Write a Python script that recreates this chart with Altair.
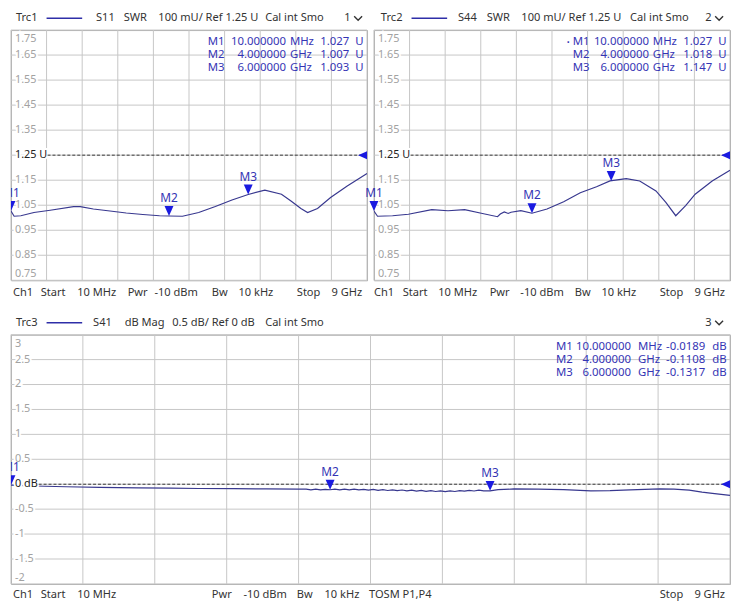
import altair as alt
import pandas as pd

# ---------------- data ----------------
# Trc1: S11 SWR (frequency in GHz, SWR in U)
s11_f = [0.01, 0.09, 0.26, 0.59, 1.0, 1.59, 1.76, 2.09, 2.51, 2.92, 3.34, 3.76, 4.0, 4.34,
         4.75, 5.17, 5.59, 6.0, 6.42, 6.84, 7.08, 7.33, 7.5, 7.75, 8.08, 8.5, 9.0]
s11_v = [1.027, 1.006, 1.008, 1.021, 1.030, 1.044, 1.044, 1.035, 1.027, 1.019, 1.013, 1.008, 1.007, 1.006,
         1.021, 1.045, 1.071, 1.093, 1.110, 1.094, 1.067, 1.037, 1.021, 1.037, 1.081, 1.127, 1.177]

# Trc2: S44 SWR
s44_f = [0.01, 0.1, 0.48, 0.88, 1.47, 1.88, 2.3, 2.72, 3.13, 3.2, 3.3, 3.4, 3.47, 3.72, 4.0, 4.38,
         4.8, 5.22, 5.63, 5.97, 6.38, 6.72, 7.13, 7.38, 7.63, 7.88, 8.12, 8.55, 9.0]
s44_v = [1.027, 1.006, 1.008, 1.014, 1.032, 1.028, 1.032, 1.018, 1.004, 1.015, 1.023, 1.017, 1.022, 1.028, 1.018, 1.035,
         1.064, 1.100, 1.124, 1.147, 1.156, 1.147, 1.107, 1.061, 1.008, 1.048, 1.094, 1.147, 1.190]

# Trc3: S41 dB Mag
s41_f = [0.01, 0.3, 0.7, 1.12, 1.6, 2.0, 2.36, 2.8, 3.2, 3.6,
         3.7, 3.76, 3.82, 3.88, 3.94, 4.0, 4.06, 4.12, 4.18, 4.24, 4.3, 4.36, 4.42, 4.48, 4.54, 4.6,
         4.66, 4.72, 4.78, 4.84, 4.9, 4.96, 5.02, 5.08, 5.14, 5.2, 5.26, 5.32, 5.38, 5.44, 5.5, 5.56,
         5.62, 5.68, 5.74, 5.8, 5.86, 5.92, 6.0,
         6.1, 6.3, 6.6, 6.92, 7.26, 7.5, 7.75, 8.12, 8.3, 8.49, 8.65, 8.78, 9.0]
s41_v = [-0.019, -0.035, -0.05, -0.062, -0.072, -0.08, -0.086, -0.09, -0.095, -0.1,
         -0.098, -0.112, -0.1, -0.114, -0.104, -0.111, -0.098, -0.112, -0.1, -0.113, -0.099, -0.114, -0.102, -0.118, -0.105, -0.122,
         -0.108, -0.126, -0.112, -0.13, -0.116, -0.134, -0.12, -0.138, -0.124, -0.142, -0.128, -0.146, -0.132, -0.148, -0.132, -0.146,
         -0.128, -0.14, -0.122, -0.136, -0.118, -0.132, -0.1317,
         -0.11, -0.095, -0.1, -0.11, -0.135, -0.13, -0.115, -0.095, -0.1, -0.12, -0.16, -0.185, -0.225]

# markers
mk_names = ["M1", "M2", "M3"]
mk_f = [0.01, 4.0, 6.0]
mk_freq_txt = ["10.000000", "4.000000", "6.000000"]
mk_unit_txt = ["MHz", "GHz", "GHz"]
s11_mk_v = [1.027, 1.007, 1.093]
s44_mk_v = [1.027, 1.018, 1.147]
s41_mk_v = [-0.0189, -0.1108, -0.1317]
s11_mk_txt = ["1.027", "1.007", "1.093"]
s44_mk_txt = ["1.027", "1.018", "1.147"]
s41_mk_txt = ["-0.0189", "-0.1108", "-0.1317"]

# grids / axis labels
x_grid = [0.01, 0.909, 1.808, 2.707, 3.606, 4.505, 5.404, 6.303, 7.202, 8.101, 9.0]
swr_grid = [1.75, 1.65, 1.55, 1.45, 1.35, 1.25, 1.15, 1.05, 0.95, 0.85, 0.75]
swr_labels = ["1.75", "1.65", "1.55", "1.45", "1.35", "1.25 U", "1.15", "1.05", "0.95", "0.85", "0.75"]
db_grid = [3, 2.5, 2, 1.5, 1, 0.5, 0, -0.5, -1, -1.5, -2]
db_labels = ["3", "2.5", "2", "1.5", "1", "0.5", "0 dB", "-0.5", "-1", "-1.5", "-2"]

hdr1 = ["Trc1", "S11", "SWR", "100 mU/ Ref 1.25 U", "Cal int Smo", "1"]
hdr2 = ["Trc2", "S44", "SWR", "100 mU/ Ref 1.25 U", "Cal int Smo", "2"]
hdr3 = ["Trc3", "S41", "dB Mag", "0.5 dB/ Ref 0 dB", "Cal int Smo", "3"]
ftr_top = ["Ch1", "Start", "10 MHz", "Pwr", "-10 dBm", "Bw", "10 kHz", "Stop", "9 GHz"]
ftr_bot = ["Ch1", "Start", "10 MHz", "Pwr", "-10 dBm", "Bw", "10 kHz", "TOSM P1,P4", "Stop", "9 GHz"]

# ---------------- style ----------------
FONT = "Noto Sans"
TRACE = "#38388f"
MARK = "#1a1ae0"
MTXT = "#3434b4"
LBL = "#a2a2a2"
DARK = "#333333"
GRID = "#c6c6c6"
TRI_DOWN = "M-0.45,-1L0.45,-1L0,0Z"
TRI_LEFT = "M-1,0L0,-0.45L0,0.45Z"
CHEVRON = "M-1,-0.5L0,0.5L1,-0.5"
HFS = 11.2   # header/footer font size
RFS = 11.5   # readout font size

one = pd.DataFrame({"k": [0]})


def txt(s, x, y, align="left", color=DARK, size=HFS, baseline="middle"):
    return alt.Chart(one).mark_text(text=s, align=align, baseline=baseline, font=FONT,
                                    fontSize=size, color=color).encode(
        x=alt.value(x), y=alt.value(y))


def panel(tr_f, tr_v, ydom, ygrid, ylabels, ref_v, ref_idx, ref_x0, W, H,
          mk_v, mk_txt, val_unit, ro_x, header, hdr_x, chev_x, footer, ftr_x, ftr_y,
          clip_mk, bullet_x=None):
    xs = alt.Scale(domain=[0.01, 9.0], nice=False, zero=False)
    ys = alt.Scale(domain=ydom, nice=False, zero=False)
    Xn = alt.X("f:Q", scale=xs, axis=None)
    Yn = alt.Y("v:Q", scale=ys, axis=None)

    layers = []
    # grid lines
    layers.append(alt.Chart(pd.DataFrame({"f": x_grid})).mark_rule(color=GRID, strokeWidth=1).encode(
        x=Xn, y=alt.value(0), y2=alt.value(H)))
    layers.append(alt.Chart(pd.DataFrame({"v": ygrid})).mark_rule(color=GRID, strokeWidth=1).encode(
        y=Yn, x=alt.value(0), x2=alt.value(W)))

    trace = pd.DataFrame({"f": tr_f, "v": tr_v})
    layers.append(alt.Chart(trace).mark_line(color=TRACE, strokeWidth=1.2, clip=True).encode(x=Xn, y=Yn))

    # y labels (inside plot, with white halo)
    kinds = []
    for i in range(len(ygrid)):
        if i == 0:
            kinds.append("top")
        elif i == len(ygrid) - 1:
            kinds.append("bot")
        elif i == ref_idx:
            kinds.append("ref")
        else:
            kinds.append("mid")
    ydf = pd.DataFrame({"v": ygrid, "t": ylabels, "kind": kinds})
    for kind, base, dy, col in [("mid", "middle", 0, LBL), ("ref", "middle", 0, "#222222"),
                                ("top", "top", 3, LBL), ("bot", "bottom", -1, LBL)]:
        for halo in (True, False):
            m = alt.Chart(ydf).transform_filter(alt.datum.kind == kind)
            if halo:
                m = m.mark_text(align="left", baseline=base, dy=dy, font=FONT, fontSize=11,
                                color="white", stroke="white", strokeWidth=4)
            else:
                m = m.mark_text(align="left", baseline=base, dy=dy, font=FONT, fontSize=11, color=col)
            layers.append(m.encode(x=alt.value(4), y=Yn, text="t:N"))

    # reference line and reference triangle
    refdf = pd.DataFrame({"f": [9.0], "v": [ref_v]})
    layers.append(alt.Chart(refdf).mark_rule(color="#3a3a3a", strokeDash=[3, 2], strokeWidth=1).encode(
        x=alt.value(ref_x0), x2=alt.value(W), y=Yn))
    layers.append(alt.Chart(refdf).mark_point(shape=TRI_LEFT, filled=True, size=324, color=MARK,
                                              opacity=1, strokeWidth=0).encode(x=Xn, y=Yn))

    # markers
    mdf = pd.DataFrame({"f": mk_f, "v": mk_v, "name": mk_names})
    layers.append(alt.Chart(mdf).mark_point(shape=TRI_DOWN, filled=True, size=400, color=MARK,
                                            opacity=1, strokeWidth=0, clip=clip_mk).encode(x=Xn, y=Yn))
    layers.append(alt.Chart(mdf).mark_text(dy=-18, font=FONT, fontSize=12, color=MTXT,
                                           clip=clip_mk).encode(x=Xn, y=Yn, text="name:N"))

    # marker readout (multi-line columns)
    cols = [(mk_names, ro_x[0], "left"), (mk_freq_txt, ro_x[1], "right"), (mk_unit_txt, ro_x[2], "left"),
            (mk_txt, ro_x[3], "right"), ([val_unit] * 3, ro_x[4], "left")]
    for lines, x, al in cols:
        layers.append(alt.Chart(one).mark_text(text="\n".join(lines), lineBreak="\n", lineHeight=13.3,
                                               align=al, baseline="top", font=FONT, fontSize=RFS,
                                               color=MTXT).encode(x=alt.value(x), y=alt.value(6)))
    if bullet_x is not None:
        layers.append(txt("\u2022", bullet_x, 13, color=MTXT, size=8))

    # header
    for s, x in zip(header, hdr_x):
        layers.append(txt(s, x, -12))
    layers.append(alt.Chart(one).mark_rule(color="#2e2ea8", strokeWidth=1.5).encode(
        x=alt.value(hdr_x[0] + 31), x2=alt.value(hdr_x[0] + 67), y=alt.value(-12)))
    layers.append(alt.Chart(one).mark_point(shape=CHEVRON, filled=False, size=64, color=DARK,
                                            strokeWidth=1.4, opacity=1).encode(
        x=alt.value(chev_x), y=alt.value(-12)))

    # footer
    for s, x in zip(footer, ftr_x):
        layers.append(txt(s, x, ftr_y))

    return alt.layer(*layers).properties(width=W, height=H)


ftr_top_x = [2, 30, 67, 118, 145, 203, 230, 289, 324]

p1 = panel(s11_f, s11_v, [0.75, 1.75], swr_grid, swr_labels, 1.25, 5, 37, 360, 253,
           s11_mk_v, s11_mk_txt, "U", [199, 278, 282, 342, 348], hdr1, [5, 86, 114, 149, 257, 337], 351,
           ftr_top, ftr_top_x, 266, True)
p2 = panel(s44_f, s44_v, [0.75, 1.75], swr_grid, swr_labels, 1.25, 5, 37, 360, 253,
           s44_mk_v, s44_mk_txt, "U", [201, 278, 282, 342, 348], hdr2, [7, 85, 114, 149, 259, 335], 349,
           ftr_top, [0, 29, 65, 117, 148, 203, 230, 289, 324], 266, False, bullet_x=195)
p3 = panel(s41_f, s41_v, [-2, 3], db_grid, db_labels, 0, 6, 28, 727, 252,
           s41_mk_v, s41_mk_txt, "dB", [551, 627, 634, 702, 709], hdr3, [5, 83, 115, 163, 257, 702], 716,
           ftr_bot, [2, 30, 67, 203, 235, 289, 317, 362, 656, 691], 263, True)

chart = alt.vconcat(
    alt.hconcat(p1, p2, spacing=7, bounds="flush"),
    p3, spacing=17
).properties(
    padding={"left": 2, "top": 0, "right": 0, "bottom": 0},
    background="white"
).configure_view(
    stroke="#a4a4a4", strokeWidth=1
)

chart.save("out.html", embed_options={"renderer": "svg", "actions": False})
